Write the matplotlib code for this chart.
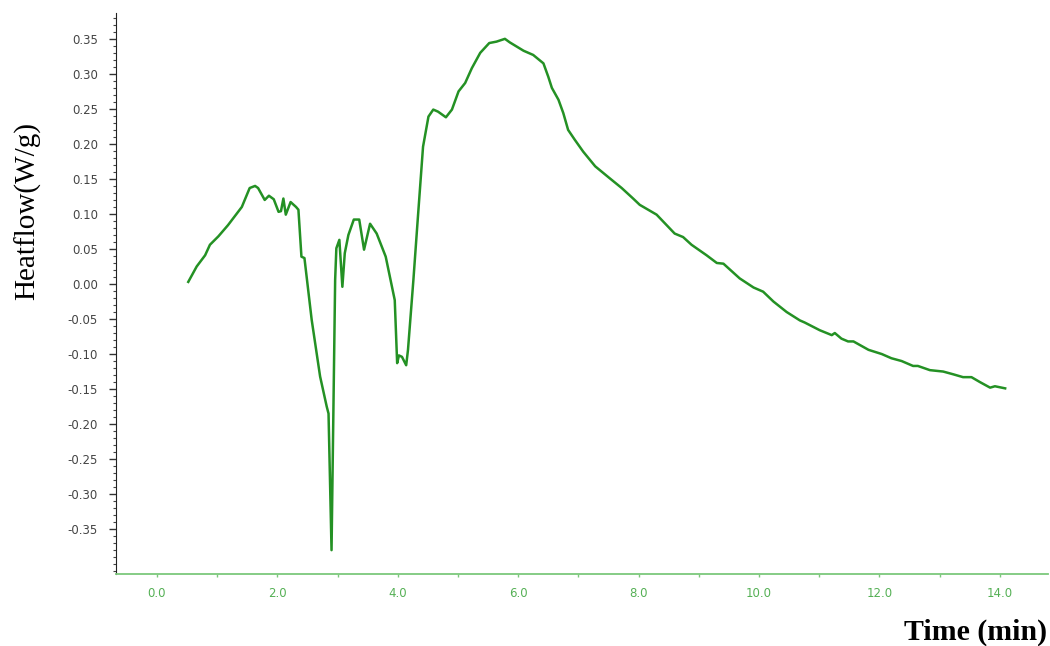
import matplotlib
matplotlib.use("Agg")
import matplotlib.pyplot as plt
from matplotlib.ticker import MultipleLocator, FormatStrFormatter

# DSC trace
time_min = [0.52, 0.66, 0.80, 0.88, 1.02, 1.18, 1.41, 1.54, 1.63, 1.68,
            1.79, 1.86, 1.94, 2.02, 2.06, 2.10, 2.14, 2.22, 2.31, 2.35,
            2.40, 2.45, 2.57, 2.71, 2.82, 2.85, 2.90, 2.96, 2.98, 3.03,
            3.08, 3.12, 3.18, 3.27, 3.36, 3.44, 3.54, 3.65, 3.80, 3.95,
            3.99, 4.02, 4.07, 4.14, 4.17, 4.26, 4.33, 4.37, 4.42, 4.51,
            4.59, 4.67, 4.80, 4.90, 5.01, 5.12, 5.23, 5.37, 5.52, 5.64,
            5.78, 5.86, 6.09, 6.25, 6.42, 6.50, 6.56, 6.67, 6.75, 6.83,
            6.94, 7.08, 7.28, 7.52, 7.72, 7.91, 8.02, 8.30, 8.60, 8.74,
            8.88, 9.13, 9.30, 9.41, 9.68, 9.91, 10.07, 10.24, 10.46, 10.68,
            10.76, 11.01, 11.21, 11.26, 11.37, 11.48, 11.57, 11.82, 12.04, 12.20,
            12.37, 12.56, 12.64, 12.84, 13.06, 13.23, 13.39, 13.53, 13.67, 13.84,
            13.92, 14.09]
heatflow = [0.003, 0.025, 0.041, 0.056, 0.068, 0.084, 0.110, 0.137, 0.140, 0.137,
            0.120, 0.126, 0.121, 0.103, 0.104, 0.122, 0.099, 0.117, 0.110, 0.106,
            0.039, 0.037, -0.051, -0.132, -0.175, -0.185, -0.380, 0.006, 0.051, 0.063,
            -0.004, 0.044, 0.070, 0.092, 0.092, 0.049, 0.086, 0.072, 0.039, -0.023,
            -0.113, -0.102, -0.104, -0.116, -0.094, 0.006, 0.090, 0.137, 0.196, 0.239,
            0.249, 0.246, 0.238, 0.249, 0.275, 0.287, 0.308, 0.330, 0.344, 0.346,
            0.350, 0.345, 0.333, 0.327, 0.315, 0.296, 0.280, 0.263, 0.244, 0.220,
            0.206, 0.189, 0.168, 0.151, 0.137, 0.122, 0.113, 0.099, 0.072, 0.067,
            0.056, 0.041, 0.030, 0.029, 0.008, -0.005, -0.011, -0.025, -0.040, -0.052,
            -0.055, -0.066, -0.073, -0.070, -0.078, -0.082, -0.082, -0.094, -0.100, -0.106,
            -0.110, -0.117, -0.117, -0.123, -0.125, -0.129, -0.133, -0.133, -0.140, -0.148,
            -0.146, -0.149]
y_ticks = [-0.35, -0.30, -0.25, -0.20, -0.15, -0.10, -0.05, 0.00,
           0.05, 0.10, 0.15, 0.20, 0.25, 0.30, 0.35]
x_ticks = [0, 2, 4, 6, 8, 10, 12, 14]

fig = plt.figure(figsize=(10.5, 6.46), dpi=100)
ax = fig.add_axes([0.1105, 0.1115, 0.8875, 0.8685])
ax.plot(time_min, heatflow, color='#249124', linewidth=1.8,
        solid_joinstyle='round')

ax.set_xlim(-0.68, 14.8)
ax.set_ylim(-0.414, 0.387)

# y axis: dark, dense minor ticks
ax.set_yticks(y_ticks)
ax.yaxis.set_major_formatter(FormatStrFormatter('%.2f'))
ax.yaxis.set_minor_locator(MultipleLocator(0.01))
ax.tick_params(axis='y', which='major', length=5, width=1, color='#333333',
               labelcolor='#444444', labelsize=8.5, pad=8)
ax.tick_params(axis='y', which='minor', length=2.5, width=0.8, color='#444444')

# x axis: light green
ax.set_xticks(x_ticks)
ax.xaxis.set_major_formatter(FormatStrFormatter('%.1f'))
ax.xaxis.set_minor_locator(MultipleLocator(1))
ax.tick_params(axis='x', which='both', length=2.5, width=1, color='#7cc87c',
               labelcolor='#55b055', labelsize=8.5, pad=7)

ax.spines['top'].set_visible(False)
ax.spines['right'].set_visible(False)
ax.spines['left'].set_color('#222222')
ax.spines['bottom'].set_color('#7cc87c')
ax.spines['bottom'].set_linewidth(1.3)

fig.text(28 / 1050, 1 - 211 / 646, 'Heatflow(W/g)', rotation=90,
         family='Liberation Serif', fontsize=21, ha='center', va='center')
fig.text(1047 / 1050, 1 - 632 / 646, 'Time (min)', family='Liberation Serif',
         fontweight='bold', fontsize=21.5, ha='right', va='center')

fig.savefig('out.png', dpi=100)
